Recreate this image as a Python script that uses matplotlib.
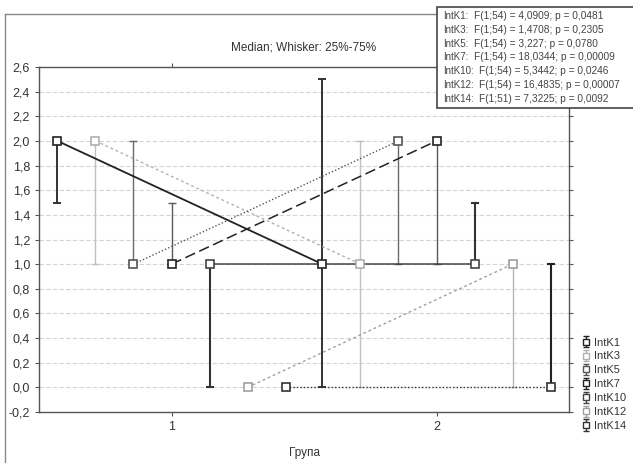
import numpy as np
import matplotlib.pyplot as plt
from matplotlib.lines import Line2D
from matplotlib.patches import Rectangle
from matplotlib.ticker import FuncFormatter, MultipleLocator

plt.rcParams['font.family'] = ['Liberation Sans', 'DejaVu Sans']
plt.rcParams['axes.unicode_minus'] = False

groups = [1, 2]
series = ['IntK1', 'IntK3', 'IntK5', 'IntK7', 'IntK10', 'IntK12', 'IntK14']

# median and 25% / 75% whiskers for each series, group 1 and group 2
medians = [[2.0, 1.0], [2.0, 1.0], [1.0, 2.0], [1.0, 2.0], [1.0, 1.0], [0.0, 1.0], [0.0, 0.0]]
q25 = [[1.5, 0.0], [1.0, 0.0], [1.0, 1.0], [1.0, 1.0], [0.0, 1.0], [0.0, 0.0], [0.0, 0.0]]
q75 = [[2.0, 2.5], [2.0, 2.0], [2.0, 2.0], [1.5, 2.0], [1.0, 1.5], [0.0, 1.0], [0.0, 1.0]]

stats = ['F(1;54) = 4,0909; p = 0,0481',
         'F(1;54) = 1,4708; p = 0,2305',
         'F(1;54) = 3,227; p = 0,0780',
         'F(1;54) = 18,0344; p = 0,00009',
         'F(1;54) = 5,3442; p = 0,0246',
         'F(1;54) = 16,4835; p = 0,00007',
         'F(1;51) = 7,3225; p = 0,0092']

# line style per series: colour, dashes, width, whisker colour, whisker width
colors = ['#222222', '#b0b0b0', '#555555', '#222222', '#444444', '#a0a0a0', '#333333']
dashes = [None, (2, 2), (1, 1.5), (7, 3), None, (2, 2), (1, 1.5)]
widths = [1.3, 1.0, 1.0, 1.1, 1.1, 1.0, 1.0]
wcolors = ['#333333', '#c0c0c0', '#6a6a6a', '#5a5a5a', '#333333', '#b8b8b8', '#222222']
wwidths = [1.4, 1.0, 1.0, 1.0, 1.5, 1.0, 1.5]

fig = plt.figure(figsize=(6.33, 4.63), dpi=100)
ax = fig.add_axes([39 / 633, 1 - 412 / 463, 530 / 633, 345 / 463])

step = 0.1435
for i, name in enumerate(series):
    xs = np.array(groups) + (i - 3) * step
    ls = '-' if dashes[i] is None else (0, dashes[i])
    ax.plot(xs, medians[i], color=colors[i], linestyle=ls, lw=widths[i], zorder=3)
    for x, m, lo, hi in zip(xs, medians[i], q25[i], q75[i]):
        if hi > lo:
            ax.plot([x, x], [lo, hi], color=wcolors[i], lw=wwidths[i], zorder=2)
        for end in (lo, hi):
            if end != m:
                ax.plot([x], [end], marker='_', ms=5.5, mew=wwidths[i], color=wcolors[i], zorder=2)
    ax.plot(xs, medians[i], linestyle='none', marker='s', ms=5.5, mfc='white',
            mec=colors[i], mew=1.2, zorder=4)
    # legend handle
    ax.errorbar([np.nan], [np.nan], yerr=[[1], [1]], fmt='s', ms=5, mfc='white',
                mec=colors[i], ecolor=colors[i], capsize=2.5, elinewidth=1, label=name)

ax.set_xlim(0.5, 2.5)
ax.set_ylim(-0.2, 2.6)
ax.set_xticks(groups)
ax.yaxis.set_major_locator(MultipleLocator(0.2))
ax.yaxis.set_major_formatter(FuncFormatter(lambda v, p: f'{v:.1f}'.replace('.', ',')))
ax.grid(axis='y', color='#d4d4d4', linestyle=(0, (4, 2)), lw=0.8)
ax.set_axisbelow(True)
ax.tick_params(direction='out', top=True, right=True, length=3, colors='#555555',
               labelcolor='#333333', labelsize=9)
for s in ax.spines.values():
    s.set_color('#555555')
    s.set_linewidth(1.0)

ax.set_title('Median; Whisker: 25%-75%', fontsize=8.5, color='#333333', pad=12)
ax.set_xlabel('Група', fontsize=8.5, color='#333333', labelpad=10)

fig.legend(loc='upper left', bbox_to_anchor=(575 / 633, 1 - 332 / 463), frameon=False,
           fontsize=8, handlelength=0.9, handletextpad=0.3, labelspacing=0.35,
           borderpad=0, labelcolor='#333333')

# outer frame (left and top edges)
fig.add_artist(Line2D([5 / 633, 5 / 633], [0, 1 - 14 / 463], color='#888888', lw=1))
fig.add_artist(Line2D([5 / 633, 1], [1 - 14 / 463, 1 - 14 / 463], color='#888888', lw=1))

# statistics box
fig.add_artist(Rectangle((437 / 633, 1 - 108 / 463), 200 / 633, 101 / 463,
                         transform=fig.transFigure, facecolor='white',
                         edgecolor='#444444', lw=1.2, zorder=5))
for i, (name, st) in enumerate(zip(series, stats)):
    y = 1 - (16 + i * 13.8) / 463
    fig.text(443 / 633, y, name + ':', fontsize=7.0, color='#444444', va='center', zorder=6)
    fig.text((474 if len(name) < 6 else 479) / 633, y, st, fontsize=7.3,
             color='#444444', va='center', zorder=6)

fig.savefig('out.png', dpi=100)
